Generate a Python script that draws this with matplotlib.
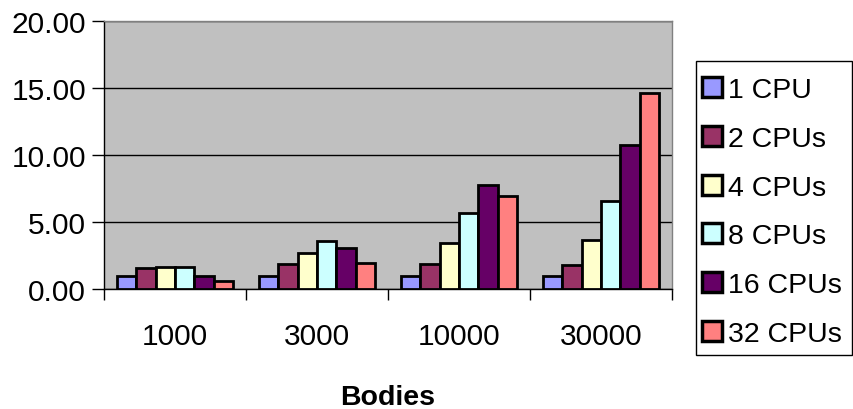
import matplotlib
matplotlib.use("Agg")
import matplotlib.pyplot as plt
from matplotlib.patches import Rectangle
import numpy as np

plt.rcParams['font.family'] = ['Liberation Sans', 'DejaVu Sans']

categories = ["1000", "3000", "10000", "30000"]
series_names = ["1 CPU", "2 CPUs", "4 CPUs", "8 CPUs", "16 CPUs", "32 CPUs"]
cpu1 = [1.00, 1.00, 1.00, 1.00]
cpu2 = [1.53, 1.87, 1.87, 1.79]
cpu4 = [1.63, 2.72, 3.44, 3.66]
cpu8 = [1.63, 3.60, 5.69, 6.53]
cpu16 = [1.00, 3.09, 7.73, 10.73]
cpu32 = [0.57, 1.93, 6.93, 14.66]
series = [cpu1, cpu2, cpu4, cpu8, cpu16, cpu32]
colors = ["#9999FF", "#993366", "#FFFFCC", "#CCFFFF", "#660066", "#FF8080"]
yticks = [0, 5, 10, 15, 20]

W, H = 854, 410
fig = plt.figure(figsize=(W / 100, H / 100), dpi=100)
ax = fig.add_axes([104 / W, (H - 290) / H, (672 - 104) / W, (290 - 22) / H])
ax.set_facecolor("#C0C0C0")

x = np.arange(len(categories))
bw = 0.136
for j, (vals, name, c) in enumerate(zip(series, series_names, colors)):
    ax.bar(x + (j - 2.5) * bw, vals, width=bw, color=c, edgecolor="black",
           linewidth=2.0, label=name, zorder=3)

ax.set_xlim(-0.5, len(categories) - 0.5)
ax.set_ylim(0, 20)
ax.set_yticks(yticks)
ax.set_yticklabels([f"{v:.2f}" for v in yticks], fontsize=21.5)
ax.yaxis.grid(True, color="black", linewidth=1.0, zorder=1)
ax.set_axisbelow(True)

ax.set_xticks(x)
ax.set_xticklabels(categories, fontsize=21.5)
ax.tick_params(axis="x", which="major", length=0, pad=24)
ax.set_xticks(np.arange(-0.5, len(categories), 1.0), minor=True)
ax.tick_params(axis="x", which="minor", length=8, width=1.0, direction="out", color="black")
ax.tick_params(axis="y", length=9, width=1.0, direction="out", color="black", pad=4)

for s in ["top", "right"]:
    ax.spines[s].set_color("#808080")
    ax.spines[s].set_linewidth(1.0)
for s in ["left", "bottom"]:
    ax.spines[s].set_color("black")
    ax.spines[s].set_linewidth(1.0)

ax.set_xlabel("Bodies", fontsize=20.5, fontweight="bold", labelpad=24)

# legend frame drawn separately for exact placement
fig.patches.append(Rectangle((696 / W, 1 - 356 / H), (852 - 696) / W, (356 - 62) / H,
                             transform=fig.transFigure, facecolor="white",
                             edgecolor="black", linewidth=1.0, zorder=0))
leg = fig.legend(loc="upper left", bbox_to_anchor=(702 / W, 1 - 78 / H),
                 fontsize=20.5, frameon=False,
                 handlelength=0.7, handleheight=0.7, handletextpad=0.2,
                 labelspacing=0.8, borderpad=0.0, borderaxespad=0)
for h in leg.legend_handles:
    h.set_linewidth(2.5)

fig.savefig("out.png", dpi=100)
